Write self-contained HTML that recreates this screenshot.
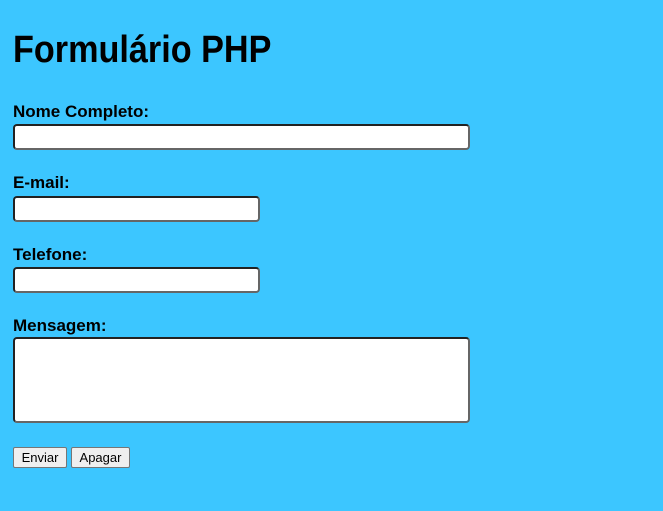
<!DOCTYPE html>
<html><head><meta charset="utf-8"><style>
html,body{margin:0;padding:0;}
body{width:663px;height:511px;background:#3cc6ff;position:relative;overflow:hidden;font-family:"Liberation Sans",sans-serif;}
.t{position:absolute;left:13px;top:28px;font-size:38px;font-weight:bold;color:#000;transform:scaleX(0.9);transform-origin:left top;white-space:nowrap;line-height:44px;}
.l{position:absolute;left:13px;font-size:17px;font-weight:bold;color:#000;line-height:20px;white-space:nowrap;}
.i{position:absolute;left:13px;background:#fff;border:2px solid #222;border-right-color:#666;border-bottom-color:#666;border-radius:4px;box-sizing:border-box;}
.b{position:absolute;top:447px;height:21px;box-sizing:border-box;background:#efefef;border:1px solid #767676;border-radius:2px;font-size:13px;line-height:19px;text-align:center;color:#000;}
</style></head><body>
<div class="t">Formulário PHP</div>
<div class="l" style="top:102px">Nome Completo:</div>
<div class="i" style="top:124px;width:457px;height:26px"></div>
<div class="l" style="top:173px">E-mail:</div>
<div class="i" style="top:196px;width:247px;height:26px"></div>
<div class="l" style="top:245px">Telefone:</div>
<div class="i" style="top:267px;width:247px;height:26px"></div>
<div class="l" style="top:316px">Mensagem:</div>
<div class="i" style="top:337px;width:457px;height:86px"></div>
<div class="b" style="left:13px;width:54px">Enviar</div>
<div class="b" style="left:71px;width:59px">Apagar</div>
</body></html>
